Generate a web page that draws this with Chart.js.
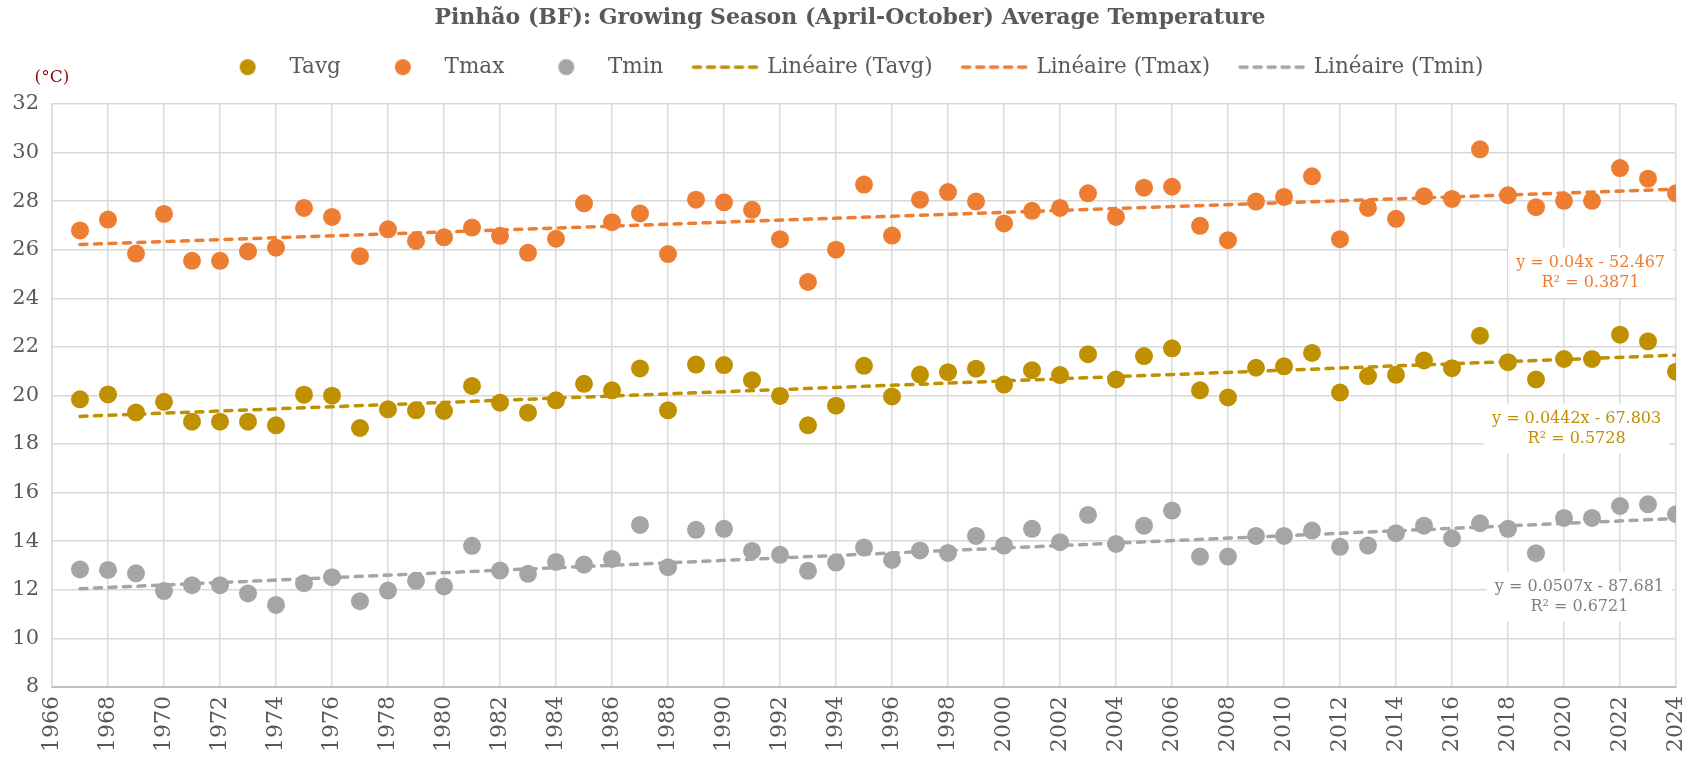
<!DOCTYPE html>
<html>
<head>
<meta charset="utf-8">
<script src="https://cdn.jsdelivr.net/npm/chart.js@4.4.0/dist/chart.umd.min.js"></script>
<style>
  html, body { margin: 0; padding: 0; background: #fff; }
</style>
</head>
<body>
<canvas id="chart" width="1700" height="759"></canvas>
<script>
// growing season averages
var years = [1967, 1968, 1969, 1970, 1971, 1972, 1973, 1974, 1975, 1976,
             1977, 1978, 1979, 1980, 1981, 1982, 1983, 1984, 1985, 1986,
             1987, 1988, 1989, 1990, 1991, 1992, 1993, 1994, 1995, 1996,
             1997, 1998, 1999, 2000, 2001, 2002, 2003, 2004, 2005, 2006,
             2007, 2008, 2009, 2010, 2011, 2012, 2013, 2014, 2015, 2016,
             2017, 2018, 2019, 2020, 2021, 2022, 2023, 2024];

var tavg = [19.84, 20.04, 19.30, 19.74, 18.92, 18.92, 18.92, 18.77, 20.03, 19.99,
            18.66, 19.43, 19.39, 19.36, 20.39, 19.70, 19.29, 19.80, 20.48, 20.21,
            21.11, 19.39, 21.27, 21.25, 20.63, 19.98, 18.77, 19.58, 21.22, 19.96,
            20.86, 20.96, 21.10, 20.45, 21.04, 20.84, 21.70, 20.66, 21.62, 21.94,
            20.21, 19.92, 21.14, 21.20, 21.75, 20.12, 20.80, 20.85, 21.44, 21.12,
            22.46, 21.37, 20.66, 21.50, 21.50, 22.50, 22.23, 20.98];

var tmax = [26.79, 27.24, 25.84, 27.47, 25.54, 25.54, 25.93, 26.08, 27.72, 27.35,
            25.73, 26.84, 26.36, 26.51, 26.91, 26.57, 25.87, 26.45, 27.91, 27.13,
            27.49, 25.82, 28.06, 27.95, 27.64, 26.43, 24.67, 26.00, 28.68, 26.58,
            28.06, 28.37, 27.98, 27.08, 27.60, 27.72, 28.32, 27.35, 28.55, 28.59,
            26.98, 26.39, 27.98, 28.17, 29.02, 26.43, 27.72, 27.27, 28.20, 28.09,
            30.13, 28.24, 27.75, 28.01, 28.01, 29.36, 28.92, 28.32];

var tmin = [12.84, 12.82, 12.68, 11.95, 12.19, 12.19, 11.85, 11.38, 12.27, 12.52,
            11.53, 11.97, 12.37, 12.14, 13.81, 12.79, 12.66, 13.15, 13.04, 13.27,
            14.67, 12.93, 14.47, 14.51, 13.60, 13.44, 12.78, 13.12, 13.74, 13.23,
            13.62, 13.52, 14.22, 13.82, 14.51, 13.96, 15.08, 13.89, 14.64, 15.26,
            13.37, 13.37, 14.22, 14.22, 14.44, 13.77, 13.82, 14.33, 14.64, 14.12,
            14.74, 14.51, 13.51, 14.96, 14.96, 15.45, 15.52, 15.11];

// excel trendline coefficients [slope, intercept]
var trendTavg = [0.0442, -67.803];
var trendTmax = [0.04, -52.467];
var trendTmin = [0.0507, -87.681];

var yTicks = [8, 32, 2];      // min, max, step
var xTicks = [1966, 2024, 2];

var GOLD = '#BF9000', ORANGE = '#ED7D31', GREY = '#A5A5A5', TEXT = '#595959';
var FONT = "'DejaVu Serif', Georgia, serif";

function toPoints(values) {
  return years.map(function (yr, i) { return {x: yr, y: values[i]}; });
}

function trendPoints(coef) {
  return [years[0], years[years.length - 1]].map(function (x) {
    return {x: x, y: coef[0] * x + coef[1]};
  });
}

function legendIcon(kind, color) {
  var c = document.createElement('canvas');
  c.width = 70; c.height = 18;
  var g = c.getContext('2d');
  if (kind === 'point') {
    g.fillStyle = color;
    g.beginPath(); g.arc(35, 9, 8, 0, Math.PI * 2); g.fill();
  } else {
    g.strokeStyle = color; g.lineWidth = 3.5; g.lineCap = 'round';
    g.setLineDash([7, 7]);
    g.beginPath(); g.moveTo(3, 9); g.lineTo(68, 9); g.stroke();
  }
  return c;
}

function scatterSet(label, values, color) {
  return {
    type: 'scatter', label: label, data: toPoints(values),
    backgroundColor: color, borderColor: color, borderWidth: 0,
    pointRadius: 9, pointHoverRadius: 9, order: 2,
    icon: legendIcon('point', color)
  };
}

function trendSet(label, coef, color) {
  return {
    type: 'line', label: label, data: trendPoints(coef),
    borderColor: color, borderWidth: 3.5, borderDash: [7, 7.5],
    borderCapStyle: 'round', pointRadius: 0, fill: false, order: 1,
    icon: legendIcon('line', color)
  };
}

// equation boxes, anchored in data units
var equations = [
  {lines: ['y = 0.04x - 52.467', 'R\u00B2 = 0.3871'], color: ORANGE, x: 2020.95, y: 25.05},
  {lines: ['y = 0.0442x - 67.803', 'R\u00B2 = 0.5728'], color: GOLD, x: 2020.45, y: 18.64},
  {lines: ['y = 0.0507x - 87.681', 'R\u00B2 = 0.6721'], color: '#7F7F7F', x: 2020.55, y: 11.72}
];

var equationPlugin = {
  id: 'equations',
  afterDatasetsDraw: function (chart) {
    var ctx = chart.ctx, xs = chart.scales.x, ys = chart.scales.y;
    ctx.save();
    ctx.font = '16px ' + FONT;
    ctx.textAlign = 'center';
    ctx.textBaseline = 'middle';
    equations.forEach(function (eq) {
      var cx = xs.getPixelForValue(eq.x), cy = ys.getPixelForValue(eq.y);
      var w = Math.max.apply(null, eq.lines.map(function (l) { return ctx.measureText(l).width; }));
      var lh = 20;
      ctx.fillStyle = '#fff';
      ctx.fillRect(cx - w / 2 - 8, cy - lh - 5, w + 16, lh * 2 + 10);
      ctx.fillStyle = eq.color;
      eq.lines.forEach(function (l, i) {
        ctx.fillText(l, cx, cy - lh / 2 + i * lh);
      });
    });
    ctx.restore();
  }
};

var unitPlugin = {
  id: 'unitLabel',
  afterDraw: function (chart) {
    var ctx = chart.ctx, a = chart.chartArea;
    ctx.save();
    ctx.font = '17px ' + FONT;
    ctx.fillStyle = '#9C0006';
    ctx.textAlign = 'center';
    ctx.textBaseline = 'middle';
    ctx.fillText('(\u00B0C)', a.left, a.top - 26);
    ctx.restore();
  }
};

// push the plot a bit further below the legend
var legendSpacer = {
  id: 'legendSpacer',
  beforeLayout: function (chart) {
    var lg = chart.legend;
    if (lg && !lg._spaced) {
      var fit = lg.fit;
      lg.fit = function () { fit.call(this); this.height += 16; };
      lg._spaced = true;
    }
  }
};

new Chart(document.getElementById('chart'), {
  type: 'scatter',
  data: {
    datasets: [
      scatterSet('Tavg', tavg, GOLD),
      scatterSet('Tmax', tmax, ORANGE),
      scatterSet('Tmin', tmin, GREY),
      trendSet('Lin\u00E9aire (Tavg)', trendTavg, GOLD),
      trendSet('Lin\u00E9aire (Tmax)', trendTmax, ORANGE),
      trendSet('Lin\u00E9aire (Tmin)', trendTmin, GREY)
    ]
  },
  options: {
    responsive: false,
    animation: false,
    devicePixelRatio: 1,
    layout: { padding: 0 },
    plugins: {
      tooltip: { enabled: false },
      title: {
        display: true,
        text: 'Pinh\u00E3o (BF): Growing Season (April-October) Average Temperature',
        color: TEXT,
        font: { family: FONT, size: 22, weight: 'bold' },
        padding: { top: 5, bottom: -6 }
      },
      legend: {
        display: true,
        labels: {
          usePointStyle: true,
          pointStyleWidth: 62,
          padding: 31,
          color: TEXT,
          font: { family: FONT, size: 21.5 },
          generateLabels: function (chart) {
            return chart.data.datasets.map(function (ds, i) {
              return {
                text: ds.label, pointStyle: ds.icon, fillStyle: ds.borderColor,
                strokeStyle: ds.borderColor, lineWidth: 0, hidden: false,
                datasetIndex: i, fontColor: TEXT
              };
            });
          }
        }
      }
    },
    scales: {
      x: {
        type: 'linear',
        min: xTicks[0], max: xTicks[1],
        afterFit: function (scale) {
          scale.paddingLeft = 0;
          scale.paddingRight = 24;
          scale.height = 72;
        },
        ticks: {
          stepSize: xTicks[2], color: TEXT, padding: 9,
          font: { family: FONT, size: 22 },
          minRotation: 90, maxRotation: 90,
          callback: function (v) { return String(v); }
        },
        grid: { color: '#D9D9D9', lineWidth: 1.5, drawTicks: false },
        border: { color: '#BFBFBF', width: 2 }
      },
      y: {
        min: yTicks[0], max: yTicks[1],
        afterFit: function (scale) { scale.width = 52; },
        ticks: {
          stepSize: yTicks[2], color: TEXT, padding: 13,
          font: { family: FONT, size: 21 }
        },
        grid: { color: '#D9D9D9', lineWidth: 1.5, drawTicks: false },
        border: { color: '#D9D9D9', width: 1.5 }
      }
    }
  },
  plugins: [equationPlugin, unitPlugin, legendSpacer]
});
</script>
</body>
</html>
